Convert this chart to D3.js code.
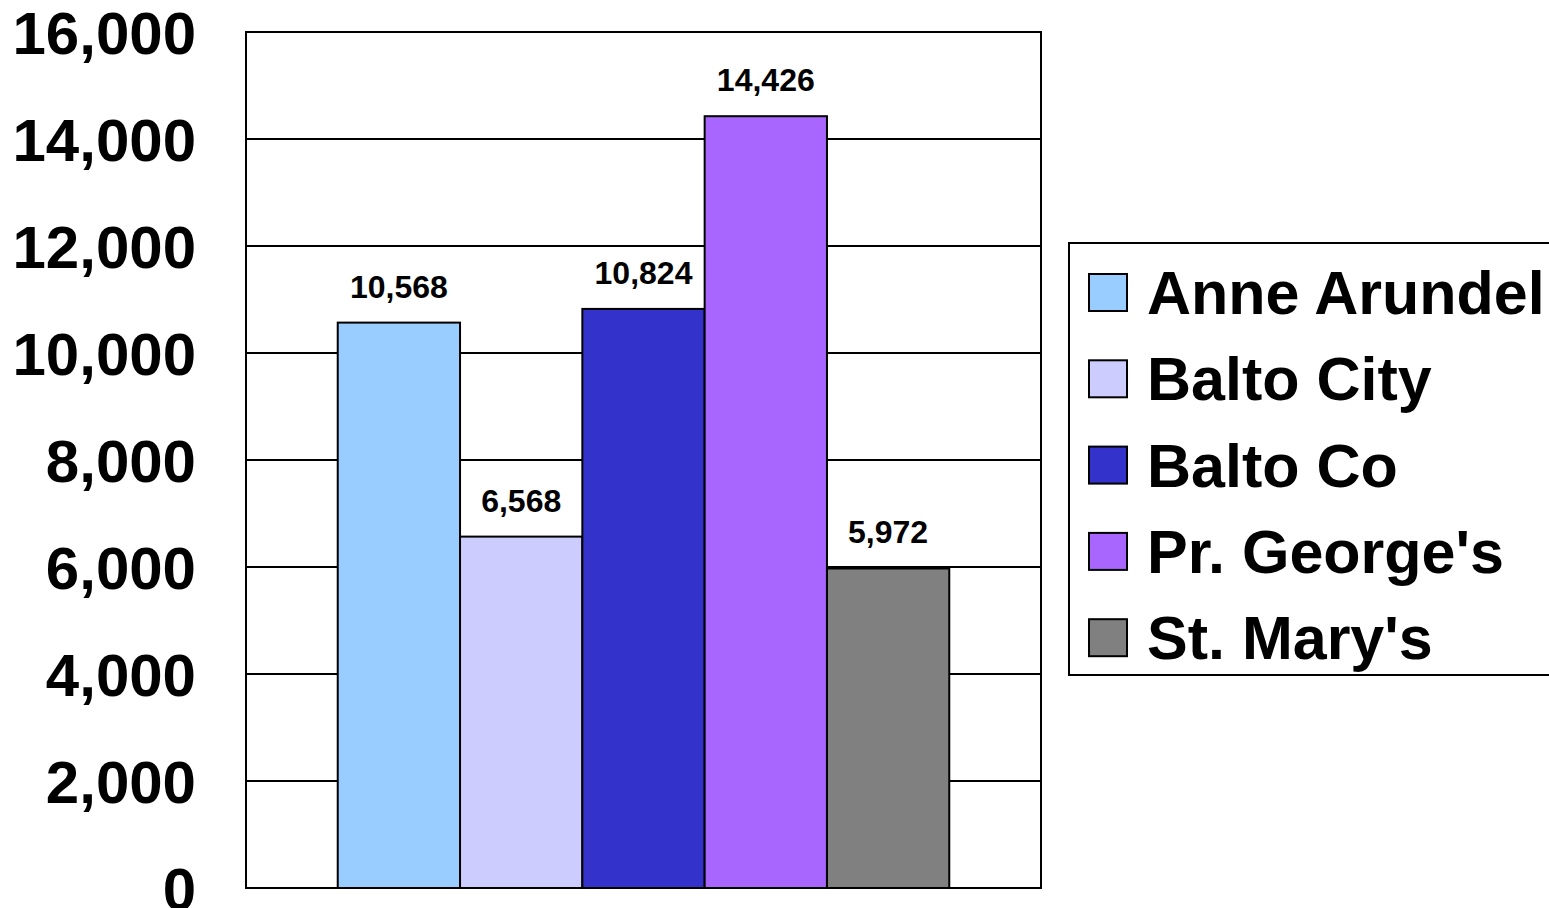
<!DOCTYPE html>
<html><head><meta charset="utf-8">
<script src="https://cdn.jsdelivr.net/npm/d3@7"></script>
<style>html,body{margin:0;padding:0;background:#fff;overflow:hidden}</style>
</head><body>
<svg id="chart" width="1549" height="908"></svg>
<script>
const categories = ["Anne Arundel", "Balto City", "Balto Co", "Pr. George's", "St. Mary's"];
const values = [10568, 6568, 10824, 14426, 5972];
const colors = ["#99CCFF", "#CCCCFF", "#3333CC", "#A966FF", "#808080"];
const yTicks = [0, 2000, 4000, 6000, 8000, 10000, 12000, 14000, 16000];

const svg = d3.select("#chart");
const font = "Arial, 'Liberation Sans', sans-serif";
const plot = {left: 246, right: 1041, top: 32, bottom: 888};

const y = d3.scaleLinear().domain([0, 16000]).range([plot.bottom, plot.top]);
const x = d3.scaleBand().domain(categories).range([plot.left, plot.right]).paddingInner(0).paddingOuter(0.75);
const fmt = d3.format(",");

// gridlines
svg.append("g").selectAll("line").data(yTicks).join("line")
  .attr("x1", plot.left).attr("x2", plot.right)
  .attr("y1", d => y(d)).attr("y2", d => y(d))
  .attr("stroke", "#000").attr("stroke-width", 2);

// plot border
svg.append("rect").attr("x", plot.left).attr("y", plot.top)
  .attr("width", plot.right - plot.left).attr("height", plot.bottom - plot.top)
  .attr("fill", "none").attr("stroke", "#000").attr("stroke-width", 2);

// bars
svg.append("g").selectAll("rect").data(values).join("rect")
  .attr("x", (d, i) => x(categories[i]))
  .attr("y", d => y(d))
  .attr("width", x.bandwidth())
  .attr("height", d => y(0) - y(d))
  .attr("fill", (d, i) => colors[i])
  .attr("stroke", "#000").attr("stroke-width", 2);

// value labels
svg.append("g").selectAll("text").data(values).join("text")
  .attr("x", (d, i) => x(categories[i]) + x.bandwidth() / 2)
  .attr("y", d => y(d) - 25)
  .attr("text-anchor", "middle")
  .attr("font-family", font).attr("font-weight", "bold").attr("font-size", 32)
  .attr("fill", "#000")
  .text(d => fmt(d));

// y axis labels
const yAxis = d3.axisLeft(y).tickValues(yTicks).tickFormat(fmt).tickSize(0).tickPadding(0);
const ga = svg.append("g").attr("transform", `translate(196,0)`).call(yAxis);
ga.select(".domain").remove();
ga.selectAll("text")
  .attr("font-family", font).attr("font-weight", "bold").attr("font-size", 60)
  .attr("fill", "#000").attr("dy", "0.36em");

// legend
const lg = svg.append("g");
lg.append("rect").attr("x", 1069).attr("y", 243).attr("width", 520).attr("height", 432)
  .attr("fill", "#fff").attr("stroke", "#000").attr("stroke-width", 2);
const rowY = i => 292 + i * 86.3;
lg.selectAll(".sw").data(categories).join("rect").attr("class", "sw")
  .attr("x", 1089).attr("y", (d, i) => rowY(i) - 18)
  .attr("width", 38).attr("height", 37)
  .attr("fill", (d, i) => colors[i]).attr("stroke", "#000").attr("stroke-width", 2);
lg.selectAll(".lt").data(categories).join("text").attr("class", "lt")
  .attr("x", 1147).attr("y", (d, i) => rowY(i))
  .attr("dy", "0.36em")
  .attr("font-family", font).attr("font-weight", "bold").attr("font-size", 61)
  .attr("fill", "#000")
  .text(d => d);
</script>
</body></html>
